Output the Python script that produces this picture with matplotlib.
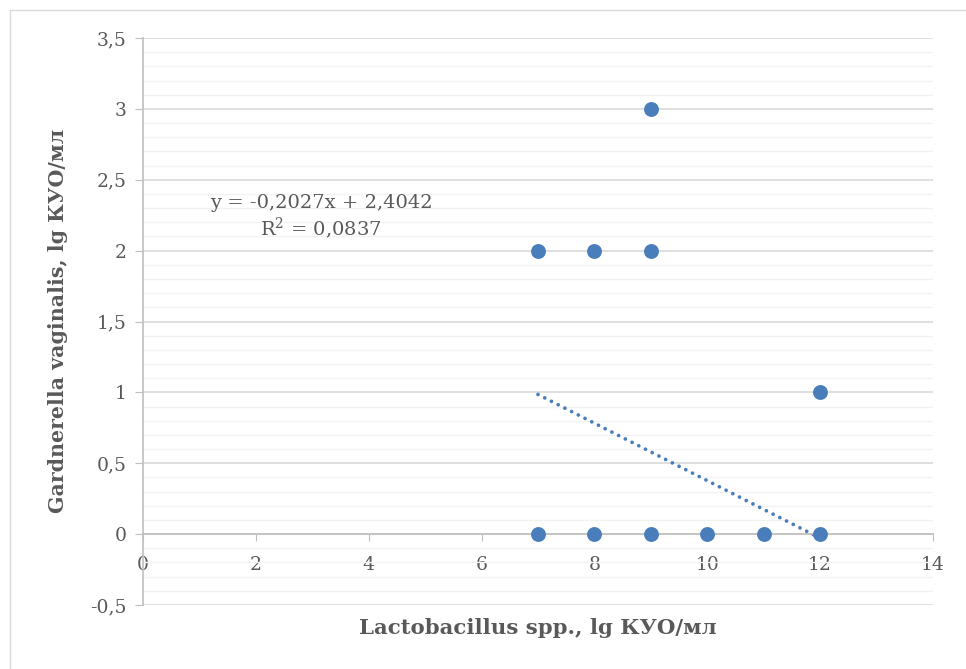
import matplotlib
matplotlib.use("Agg")
import matplotlib.pyplot as plt
import numpy as np
from matplotlib.ticker import MultipleLocator, FuncFormatter
from matplotlib.patches import Rectangle

# Data
lacto_x = [7, 8, 9, 9, 12, 7, 8, 9, 10, 11, 12]
gard_y = [2, 2, 2, 3, 1, 0, 0, 0, 0, 0, 0]
trend_slope = -0.2027
trend_intercept = 2.4042
r_squared = 0.0837
x_label = "Lactobacillus spp., lg КУО/мл"
y_label = "Gardnerella vaginalis, lg КУО/мл"

serif = ["DejaVu Serif"]
txt_col = "#595959"
pt_col = "#4A7EBB"

fig = plt.figure(figsize=(9.66, 6.69), dpi=100)
W, H = 966, 669
ax = fig.add_axes([143 / W, 1 - 605 / H, (933 - 143) / W, (605 - 38) / H])

# chart-area border (right and bottom edges fall outside the image)
fig.patches.append(Rectangle((9.5 / W, -0.05), 1.1, 1.05 - 9.5 / H,
                             transform=fig.transFigure, fill=False,
                             edgecolor="#D9D9D9", linewidth=1.0))

ax.set_xlim(0, 14)
ax.set_ylim(-0.5, 3.5)

ax.yaxis.set_major_locator(MultipleLocator(0.5))
ax.yaxis.set_minor_locator(MultipleLocator(0.1))
ax.xaxis.set_major_locator(MultipleLocator(2))

fmt = FuncFormatter(lambda v, p: ("%g" % round(v, 2)).replace(".", ","))
ax.yaxis.set_major_formatter(fmt)
ax.xaxis.set_major_formatter(fmt)

ax.grid(which="major", axis="y", color="#D9D9D9", linewidth=1.2, zorder=0)
ax.grid(which="minor", axis="y", color="#F2F2F2", linewidth=1.0, zorder=0)
ax.set_axisbelow(True)

for s in ["top", "right"]:
    ax.spines[s].set_visible(False)
ax.spines["bottom"].set_position(("data", 0))
ax.spines["bottom"].set_color("#BFBFBF")
ax.spines["left"].set_color("#BFBFBF")
ax.spines["bottom"].set_linewidth(1.2)
ax.spines["left"].set_linewidth(1.2)

ax.tick_params(axis="y", which="major", direction="out", length=6, color="#BFBFBF",
               labelcolor=txt_col, labelsize=13.5, pad=6)
ax.tick_params(axis="y", which="minor", length=0)
ax.tick_params(axis="x", which="major", direction="out", length=5, color="#BFBFBF",
               labelcolor=txt_col, labelsize=13.5, pad=11)
for lab in ax.get_xticklabels() + ax.get_yticklabels():
    lab.set_family(serif)

# trend line
tx = np.array([min(lacto_x), max(lacto_x)], dtype=float)
ty = trend_slope * tx + trend_intercept
ax.plot(tx, ty, linestyle=(0, (0.01, 2.0)), color=pt_col, linewidth=2.7,
        dash_capstyle="round", zorder=2)

ax.scatter(lacto_x, gard_y, s=115, color=pt_col, zorder=3, linewidths=0)

eq = "y = %sx + %s" % (("%.4f" % trend_slope).replace(".", ","),
                       ("%.4f" % trend_intercept).replace(".", ","))
fig.text(321 / W, 1 - 203 / H, eq, fontsize=14, color=txt_col, family=serif,
         ha="center", va="center")
fig.text(321 / W, 1 - 228 / H, "R$^2$ = " + ("%.4f" % r_squared).replace(".", ","),
         fontsize=14, color=txt_col, family=serif, ha="center", va="center",
         math_fontfamily="dejavuserif")

fig.text(538 / W, 1 - 628 / H, x_label, fontsize=15.3, fontweight="bold",
         color=txt_col, family=serif, ha="center", va="center")
fig.text(58 / W, 1 - 321 / H, y_label, fontsize=14.8, fontweight="bold",
         color=txt_col, family=serif, ha="center", va="center", rotation=90)

fig.savefig("out.png", dpi=100)
